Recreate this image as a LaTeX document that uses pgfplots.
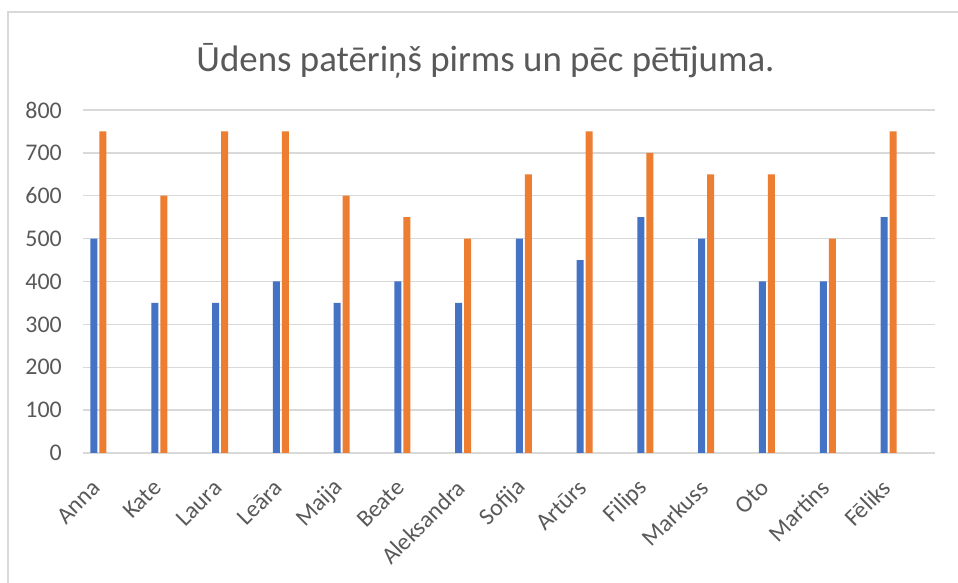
\documentclass[border=0pt]{standalone}
\usepackage{pgfplots}
\pgfplotsset{compat=1.18}
\usepackage{fontspec}
\setmainfont{Carlito}
\definecolor{sblue}{HTML}{4472C4}
\definecolor{sorange}{HTML}{ED7D31}
\definecolor{tgray}{HTML}{595959}
\definecolor{ggray}{HTML}{D9D9D9}
\begin{document}
\begin{tikzpicture}[x=1bp,y=1bp]
\useasboundingbox (0,0) rectangle (958,583);
\draw[ggray, line width=1.5bp] (8,0) -- (8,571) -- (958,571);
\begin{axis}[at={(83bp,130bp)}, anchor=south west, scale only axis,
 width=852bp, height=343bp,
 ybar=2bp, bar width=7bp,
 xmin=-0.255, xmax=13.765, ymin=0, ymax=800,
 ytick={0,100,...,800},
 xtick={0,...,13},
 xticklabels={Anna,Kate,Laura,Leāra,Maija,Beate,Aleksandra,Sofija,Artūrs,Filips,Markuss,Oto,Martins,Fēliks},
 ymajorgrids, grid style={ggray, line width=1.3bp},
 axis line style={draw=none}, major tick length=0,
 tick label style={text=tgray, font=\fontsize{24}{28}\selectfont},
 /pgf/number format/assume math mode=true,
 yticklabel style={xshift=-21bp, anchor=east, inner sep=0pt},
 xticklabel style={xshift=-2bp, yshift=-31bp, rotate=45, anchor=east, inner sep=0pt},
 clip=false]
\addplot[fill=sblue, draw=none] coordinates {(0,500) (1,350) (2,350) (3,400) (4,350) (5,400) (6,350) (7,500) (8,450) (9,550) (10,500) (11,400) (12,400) (13,550)};
\addplot[fill=sorange, draw=none] coordinates {(0,750) (1,600) (2,750) (3,750) (4,600) (5,550) (6,500) (7,650) (8,750) (9,700) (10,650) (11,650) (12,500) (13,750)};
\end{axis}
\node[text=tgray, font=\fontsize{37}{42}\selectfont, anchor=base] at (485.5,511) {Ūdens patēriņš pirms un pēc pētījuma.};
\end{tikzpicture}
\end{document}
